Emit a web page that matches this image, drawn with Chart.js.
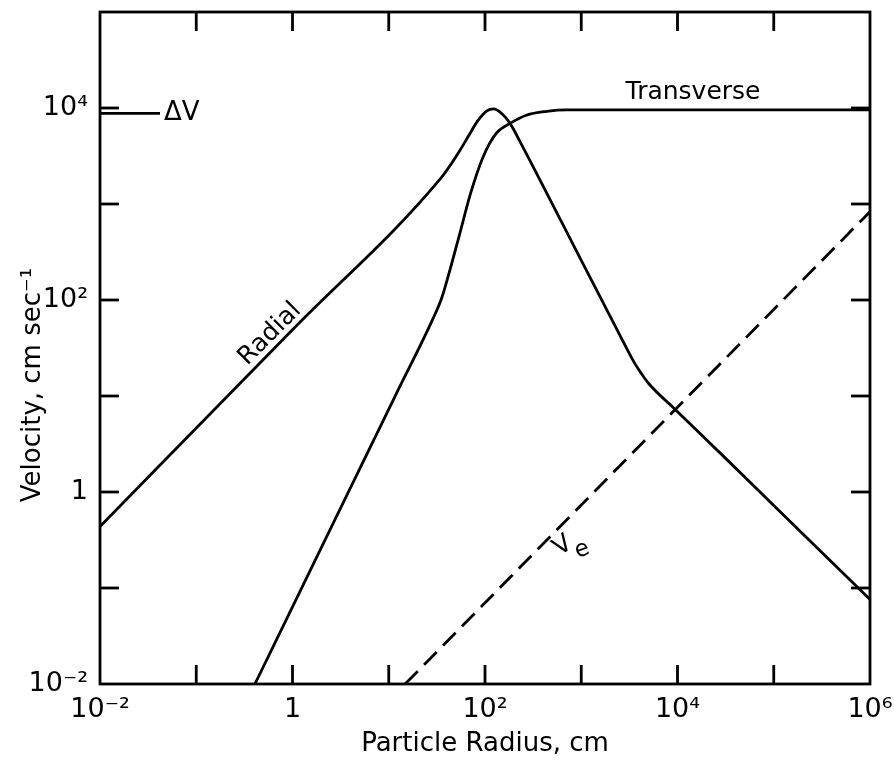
<!DOCTYPE html>
<html>
<head>
<meta charset="utf-8">
<script src="https://cdn.jsdelivr.net/npm/chart.js@4.4.1/dist/chart.umd.min.js"></script>
<style>
html,body{margin:0;padding:0;background:#fff;}
#wrap{width:894px;height:770px;}
</style>
</head>
<body>
<div id="wrap"><canvas id="c" width="894" height="770"></canvas></div>
<script>
// ---- data (log-log) ----
const radialR = [0.01, 1, 35.5, 44.7, 55.0, 67.6, 83.2, 104.7, 123, 148, 182, 234, 372, 603, 1000, 1585, 3020, 3548, 4169, 5012, 9120, 31623, 100000, 316228, 1000000];
const radialV = [0.437, 49.0, 1905, 2630, 3631, 5129, 7244, 9333, 9772, 8810, 6918, 4365, 1782, 695, 259, 106, 30.2, 22.4, 17.4, 13.5, 7.5, 2.24, 0.724, 0.234, 0.0759];

const transR = [0.407, 2.45, 12.0, 28.2, 35.5, 43.7, 55.0, 70.8, 95.5, 132, 182, 269, 437, 708, 1585, 1000000];
const transV = [0.01, 0.403, 10.6, 61.0, 105, 214, 501, 1288, 3090, 5495, 6918, 8414, 9226, 9550, 9550, 9550];

const veR = [14.8, 1000000];
const veV = [0.01, 832];

const dvR = [0.01, 0.042];
const dvV = [8810, 8810];

const xDecades = [1e-2, 1e-1, 1, 10, 100, 1e3, 1e4, 1e5, 1e6];
const yDecades = [1e-2, 1e-1, 1, 10, 100, 1e3, 1e4, 1e5];
const xLabelValues = [1e-2, 1, 1e2, 1e4, 1e6];
const xLabelTexts = ['10\u207B\u00B2', '1', '10\u00B2', '10\u2074', '10\u2076'];
const yLabelValues = [1e-2, 1, 1e2, 1e4];
const yLabelTexts = ['10\u207B\u00B2', '1', '10\u00B2', '10\u2074'];

const xTitle = 'Particle Radius, cm';
const yTitle = 'Velocity, cm sec\u207B\u00B9';

// ---- helpers ----
const pts = (xs, ys) => xs.map((x, i) => ({x: x, y: ys[i]}));
function lab(v, vals, texts) {
  for (let i = 0; i < vals.length; i++) {
    if (Math.abs(Math.log10(v) - Math.log10(vals[i])) < 1e-6) return texts[i];
  }
  return '';
}

Chart.defaults.font.family = "'DejaVu Sans', sans-serif";
Chart.defaults.color = '#000';

const FONT = "'DejaVu Sans', sans-serif";

const deco = {
  id: 'deco',
  afterDatasetsDraw(chart) {
    const {ctx, chartArea: a, scales: {x, y}} = chart;
    ctx.save();
    ctx.strokeStyle = '#000';
    ctx.lineWidth = 2.8;
    ctx.lineCap = 'butt';
    ctx.strokeRect(a.left, a.top, a.right - a.left, a.bottom - a.top);
    const L = 19;
    const seg = (x1, y1, x2, y2) => { ctx.beginPath(); ctx.moveTo(x1, y1); ctx.lineTo(x2, y2); ctx.stroke(); };
    xDecades.forEach(v => {
      if (v <= x.min * 1.0001 || v >= x.max * 0.9999) return;
      const px = x.getPixelForValue(v);
      seg(px, a.bottom, px, a.bottom - L);
      seg(px, a.top, px, a.top + L);
    });
    yDecades.forEach(v => {
      if (v <= y.min * 1.0001 || v >= y.max * 0.9999) return;
      const py = y.getPixelForValue(v);
      seg(a.left, py, a.left + L, py);
      seg(a.right, py, a.right - L, py);
    });

    ctx.fillStyle = '#000';
    ctx.textBaseline = 'middle';

    // Transverse
    ctx.font = '25px ' + FONT;
    ctx.textAlign = 'center';
    ctx.fillText('Transverse', 693, 92);

    // Delta V
    ctx.textAlign = 'left';
    ctx.font = '26px ' + FONT;
    ctx.fillText('\u0394V', 164, 113);

    // Radial (rotated)
    ctx.save();
    ctx.translate(270, 334);
    ctx.rotate(-Math.PI / 4);
    ctx.textAlign = 'center';
    ctx.font = '25px ' + FONT;
    ctx.fillText('Radial', 0, 0);
    ctx.restore();

    // V_e
    ctx.save();
    ctx.translate(563, 546);
    ctx.rotate(-0.6);
    ctx.textAlign = 'center';
    ctx.font = '25px ' + FONT;
    ctx.fillText('V', 0, 0);
    ctx.restore();
    ctx.save();
    ctx.translate(582, 550);
    ctx.rotate(-0.35);
    ctx.textAlign = 'center';
    ctx.font = '23px ' + FONT;
    ctx.fillText('e', 0, 0);
    ctx.restore();

    // y-axis title
    ctx.save();
    ctx.translate(33, 385);
    ctx.rotate(-Math.PI / 2);
    ctx.textAlign = 'center';
    ctx.font = '26px ' + FONT;
    ctx.fillText(yTitle, 0, 0);
    ctx.restore();

    ctx.restore();
  }
};

const lineStyle = {
  showLine: true,
  borderColor: '#000',
  backgroundColor: '#000',
  borderWidth: 2.8,
  pointRadius: 0,
  pointHoverRadius: 0,
  fill: false,
  cubicInterpolationMode: 'monotone'
};

new Chart(document.getElementById('c'), {
  type: 'scatter',
  data: {
    datasets: [
      Object.assign({label: 'Radial', data: pts(radialR, radialV)}, lineStyle),
      Object.assign({label: 'Transverse', data: pts(transR, transV)}, lineStyle),
      Object.assign({label: 'Ve', data: pts(veR, veV), borderDash: [18, 9]}, lineStyle),
      Object.assign({label: '\u0394V', data: pts(dvR, dvV)}, lineStyle)
    ]
  },
  options: {
    responsive: false,
    animation: false,
    layout: {padding: {top: 12, right: 24, bottom: 0, left: 0}},
    plugins: {legend: {display: false}, tooltip: {enabled: false}},
    scales: {
      x: {
        type: 'logarithmic',
        position: 'bottom',
        min: 0.01,
        max: 1e6,
        afterBuildTicks: s => { s.ticks = xDecades.map(v => ({value: v})); },
        afterFit: s => { s.height = 86; s.paddingLeft = 0; s.paddingRight = 0; },
        grid: {display: false, drawTicks: false},
        border: {display: false},
        ticks: {
          autoSkip: false, maxRotation: 0, minRotation: 0, padding: 10,
          color: '#000', font: {size: 27},
          callback: v => lab(v, xLabelValues, xLabelTexts)
        },
        title: {display: true, text: xTitle, color: '#000', font: {size: 26}, padding: {top: 0, bottom: 10}}
      },
      y: {
        type: 'logarithmic',
        position: 'left',
        min: 0.01,
        max: 1e5,
        afterBuildTicks: s => { s.ticks = yDecades.map(v => ({value: v})); },
        afterFit: s => { s.width = 100; s.paddingTop = 0; s.paddingBottom = 0; },
        grid: {display: false, drawTicks: false},
        border: {display: false},
        ticks: {
          autoSkip: false, padding: 12,
          color: '#000', font: {size: 27},
          callback: v => lab(v, yLabelValues, yLabelTexts)
        }
      }
    }
  },
  plugins: [deco]
});
</script>
</body>
</html>
